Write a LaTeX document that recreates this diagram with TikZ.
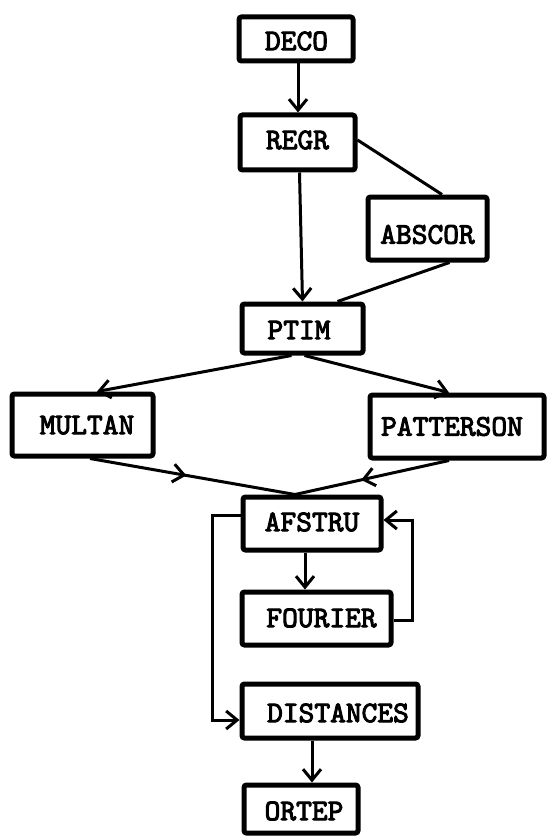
\documentclass[tikz,border=0pt]{standalone}
\usepackage{fontspec}
\newfontfamily\typewriter[FakeBold=3.2]{lmmono10-regular.otf}
\usetikzlibrary{arrows.meta,decorations.markings}
\begin{document}
\begin{tikzpicture}[x=1pt,y=1pt,
  prog/.style={draw, line width=5pt, rounded corners=2.5pt, inner sep=0pt, fill=white},
  lbl/.style={font=\typewriter\fontsize{30}{31}\selectfont, inner sep=0pt},
  link/.style={line width=3pt},
  arr/.style={link, -{Straight Barb[length=11pt,width=18pt,line width=3pt]}},
  midarrow/.style={link, postaction={decorate}, decoration={markings,
      mark=at position #1 with {\arrow{Straight Barb[length=11pt,width=18pt,line width=3pt]}}}}
]
\useasboundingbox (0,0) rectangle (549,-837);

% program boxes
\node[prog, minimum width=114pt, minimum height=44pt,
  label={[lbl, xshift=0.5pt, yshift=-2pt]center:DECO}] (deco) at (296,-39) {};
\node[prog, minimum width=115pt, minimum height=55pt,
  label={[lbl, yshift=2.5pt]center:REGR}] (regr) at (297.5,-142.5) {};
\node[prog, minimum width=119pt, minimum height=63pt,
  label={[lbl, yshift=-6pt]center:ABSCOR}] (abscor) at (427.5,-228.5) {};
\node[prog, minimum width=121pt, minimum height=49pt,
  label={[lbl, xshift=-3.5pt, yshift=-1.5pt]center:PTIM}] (ptim) at (302.5,-328.5) {};
\node[prog, minimum width=141pt, minimum height=62pt,
  label={[lbl, xshift=4.5pt]center:MULTAN}] (multan) at (82.5,-425) {};
\node[prog, minimum width=174pt, minimum height=63pt,
  label={[lbl, xshift=-5pt]center:PATTERSON}] (patterson) at (457,-426.5) {};
\node[prog, minimum width=138pt, minimum height=53pt,
  label={[lbl, yshift=1.5pt]center:AFSTRU}] (afstru) at (312,-523.5) {};
\node[prog, minimum width=149pt, minimum height=53pt,
  label={[lbl, xshift=5pt, yshift=0.5pt]center:FOURIER}] (fourier) at (316.5,-618.5) {};
\node[prog, minimum width=176pt, minimum height=54pt,
  label={[lbl, xshift=8pt, yshift=-2pt]center:DISTANCES}] (distances) at (330,-711) {};
\node[prog, minimum width=114pt, minimum height=48pt,
  label={[lbl, xshift=3pt, yshift=-2pt]center:ORTEP}] (ortep) at (301,-809) {};

% data flow
\draw[arr] ([xshift=2pt]deco.south) -- ([xshift=0.5pt]regr.north);
\draw[arr] ([xshift=2pt]regr.south) -- (ptim.north);
\draw[link] ([yshift=2.5pt]regr.east) -- ([xshift=14.5pt]abscor.north);
\draw[link] ([xshift=22pt]abscor.south) -- ([xshift=35pt]ptim.north);
\draw[arr] ([xshift=-11pt]ptim.south) -- ([xshift=14.5pt]multan.north);
\draw[arr] ([xshift=2pt]ptim.south) -- ([xshift=-8pt]patterson.north);
\draw[midarrow=0.47] ([xshift=7.5pt]multan.south) -- ([xshift=-17pt]afstru.north);
\draw[midarrow=0.57] ([xshift=-8pt]patterson.south) -- ([xshift=-17pt]afstru.north);
\draw[arr] ([xshift=-7pt]afstru.south) -- ([xshift=-11.5pt]fourier.north);
\draw[arr] ([yshift=-1.5pt]fourier.east) -- ++(19pt,0) |- ([yshift=3.5pt]afstru.east);
\draw[arr] ([yshift=8.5pt]afstru.west) -- ++(-28pt,0) |- ([yshift=-9pt]distances.west);
\draw[arr] ([xshift=-18pt]distances.south) -- ([xshift=11pt]ortep.north);
\end{tikzpicture}
\end{document}
